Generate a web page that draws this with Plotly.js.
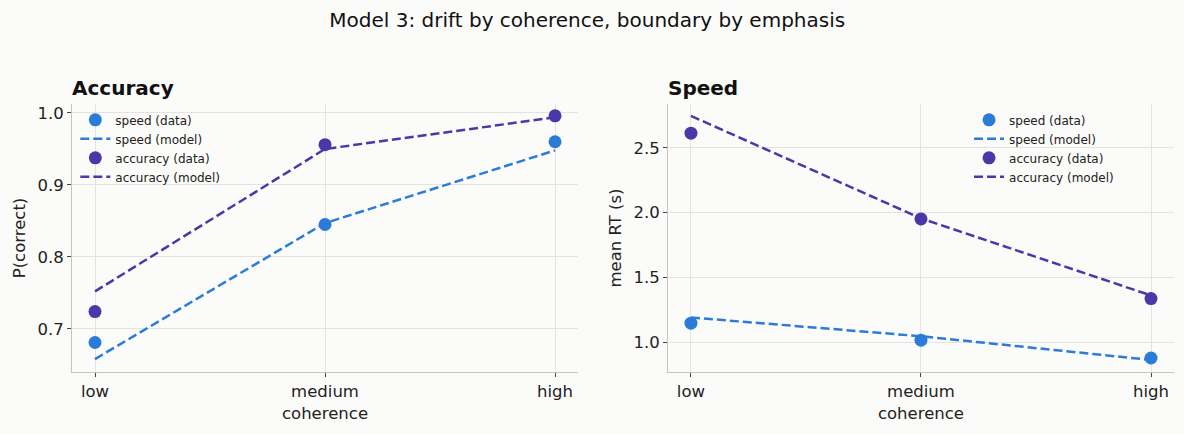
<!DOCTYPE html>
<html>
<head>
<meta charset="utf-8">
<script src="https://cdn.plot.ly/plotly-3.0.1.min.js"></script>
<style>
  html, body { margin: 0; padding: 0; background: #fbfbf9; }
  #plot { width: 1184px; height: 434px; }
</style>
</head>
<body>
<div id="plot"></div>
<script>
// categories on the x axis
var coherence = ['low', 'medium', 'high'];

// left panel: P(correct)
var acc_speed_data = [0.681, 0.845, 0.960];
var acc_speed_model = [0.658, 0.847, 0.948];
var acc_accuracy_data = [0.724, 0.956, 0.996];
var acc_accuracy_model = [0.752, 0.950, 0.994];

// right panel: mean RT (s)
var rt_speed_data = [1.146, 1.015, 0.877];
var rt_speed_model = [1.19, 1.045, 0.862];
var rt_accuracy_data = [2.613, 1.951, 1.336];
var rt_accuracy_model = [2.746, 1.955, 1.36];

var speed_color = '#2b7bd9';
var accuracy_color = '#4a38a8';
var font_family = 'DejaVu Sans, sans-serif';

function data_trace(name, y, color, xaxis, yaxis, legend) {
   return {
      name: name,
      x: coherence,
      y: y,
      xaxis: xaxis,
      yaxis: yaxis,
      legend: legend,
      mode: 'markers',
      type: 'scatter',
      marker: {size: 13, color: color}
   };
}

function model_trace(name, y, color, xaxis, yaxis, legend) {
   return {
      name: name,
      x: coherence,
      y: y,
      xaxis: xaxis,
      yaxis: yaxis,
      legend: legend,
      mode: 'lines',
      type: 'scatter',
      line: {width: 2.5, color: color, dash: '9px,4px'}
   };
}

var traces = [
   data_trace('speed (data)', acc_speed_data, speed_color, 'x', 'y', 'legend'),
   model_trace('speed (model)', acc_speed_model, speed_color, 'x', 'y', 'legend'),
   data_trace('accuracy (data)', acc_accuracy_data, accuracy_color, 'x', 'y', 'legend'),
   model_trace('accuracy (model)', acc_accuracy_model, accuracy_color, 'x', 'y', 'legend'),
   data_trace('speed (data)', rt_speed_data, speed_color, 'x2', 'y2', 'legend2'),
   model_trace('speed (model)', rt_speed_model, speed_color, 'x2', 'y2', 'legend2'),
   data_trace('accuracy (data)', rt_accuracy_data, accuracy_color, 'x2', 'y2', 'legend2'),
   model_trace('accuracy (model)', rt_accuracy_model, accuracy_color, 'x2', 'y2', 'legend2')
];

var tick_font = {family: font_family, size: 16.5, color: '#222'};

function x_layout(domain, anchor) {
   return {
      domain: domain,
      anchor: anchor,
      type: 'category',
      range: [-0.1, 2.1],
      showline: true,
      linecolor: '#c4c4b8',
      linewidth: 1,
      ticks: 'outside',
      ticklen: 4,
      tickcolor: '#444',
      showgrid: true,
      gridcolor: '#e3e3df',
      gridwidth: 1,
      zeroline: false,
      tickfont: tick_font,
      title: {text: 'coherence', font: tick_font, standoff: 7}
   };
}

function y_layout(range, dtick, anchor, title) {
   return {
      anchor: anchor,
      range: range,
      dtick: dtick,
      tickformat: '.1f',
      showline: true,
      linecolor: '#c4c4b8',
      linewidth: 1,
      ticks: 'outside',
      ticklen: 4,
      tickcolor: '#444',
      showgrid: true,
      gridcolor: '#e3e3df',
      gridwidth: 1,
      zeroline: false,
      tickfont: tick_font,
      title: {text: title, font: tick_font, standoff: 7}
   };
}

var legend_font = {family: font_family, size: 12, color: '#222'};

Plotly.newPlot('plot', traces, {
   width: 1184,
   height: 434,
   paper_bgcolor: '#fbfbf9',
   plot_bgcolor: '#fbfbf9',
   margin: {l: 72, r: 10, t: 104, b: 62},
   title: {
      text: 'Model 3: drift by coherence, boundary by emphasis',
      font: {family: font_family, size: 20, color: '#111'},
      x: 0.496,
      xref: 'container',
      xanchor: 'center',
      y: 0.953,
      yanchor: 'middle'
   },
   xaxis: x_layout([0, 0.4592], 'y'),
   yaxis: y_layout([0.640, 1.0125], 0.1, 'x', 'P(correct)'),
   xaxis2: x_layout([0.5408, 1], 'y2'),
   yaxis2: y_layout([0.769, 2.838], 0.5, 'x2', 'mean RT (s)'),
   showlegend: true,
   legend: {
      x: 0.003, y: 0.995, xanchor: 'left', yanchor: 'top',
      bgcolor: 'rgba(0,0,0,0)', font: legend_font, tracegroupgap: 0
   },
   legend2: {
      x: 0.814, y: 0.995, xanchor: 'left', yanchor: 'top',
      bgcolor: 'rgba(0,0,0,0)', font: legend_font, tracegroupgap: 0
   },
   annotations: [
      {
         text: '<b>Accuracy</b>', xref: 'paper', yref: 'paper',
         x: 0, y: 1.01, xanchor: 'left', yanchor: 'bottom', showarrow: false,
         borderpad: 0, xshift: -1,
         font: {family: font_family, size: 20, color: '#111'}
      },
      {
         text: '<b>Speed</b>', xref: 'paper', yref: 'paper',
         x: 0.5408, y: 1.01, xanchor: 'left', yanchor: 'bottom', showarrow: false,
         borderpad: 0, xshift: -1,
         font: {family: font_family, size: 20, color: '#111'}
      }
   ]
}, {displayModeBar: false});
</script>
</body>
</html>
